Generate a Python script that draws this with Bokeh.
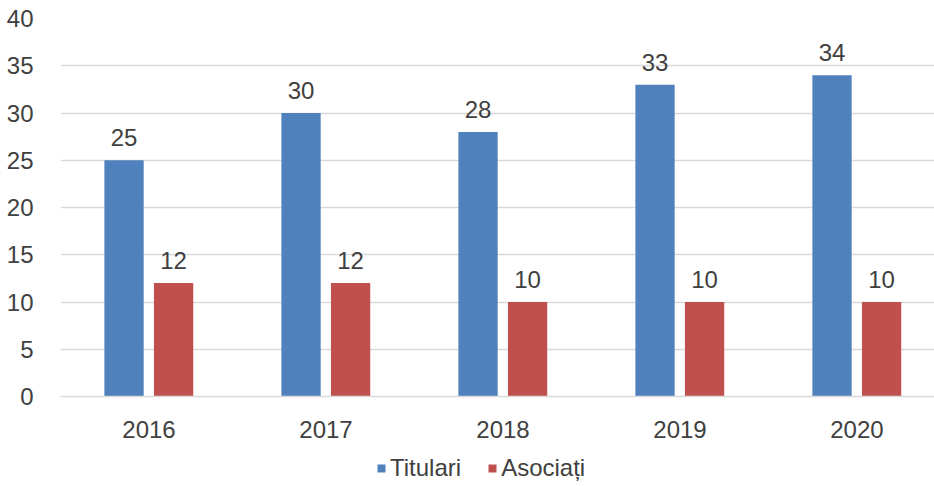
from bokeh.plotting import figure
from bokeh.layouts import column
from bokeh.models import ColumnDataSource, Range1d, FixedTicker, Legend, LegendItem
from bokeh.core.properties import value
from bokeh.embed import file_html
from bokeh.resources import INLINE

years = ["2016", "2017", "2018", "2019", "2020"]
titulari = [25, 30, 28, 33, 34]
asociati = [12, 12, 10, 10, 10]
y_ticks = [0, 5, 10, 15, 20, 25, 30, 35, 40]
series_names = ["Titulari", "Asociați"]

FONT = "Liberation Sans"
TXT = "#404040"
BLUE = "#4F81BD"
RED = "#C0504D"
GRID = "#d9d9d9"

x = list(range(len(years)))
src = ColumnDataSource(dict(
    x=x,
    xb=[i - 0.141 for i in x],
    xr=[i + 0.139 for i in x],
    tit=titulari,
    aso=asociati,
    tit_lbl=[str(v) for v in titulari],
    aso_lbl=[str(v) for v in asociati],
))

p = figure(frame_width=874, frame_height=378, output_backend="svg", toolbar_location=None,
           x_range=Range1d(-0.5, 4.438), y_range=Range1d(0, 40),
           min_border_left=60, min_border_right=0, min_border_top=18,
           min_border_bottom=46)
p.outline_line_color = None
p.background_fill_color = "white"
p.border_fill_color = "white"

p.vbar(x="xb", top="tit", width=0.222, source=src, fill_color=BLUE, line_color=None)
p.vbar(x="xr", top="aso", width=0.222, source=src, fill_color=RED, line_color=None)

p.text(x="xb", y="tit", text="tit_lbl", source=src, text_align="center",
       text_baseline="bottom", y_offset=-14, text_font=value(FONT),
       text_font_size="24px", text_color=TXT)
p.text(x="xr", y="aso", text="aso_lbl", source=src, text_align="center",
       text_baseline="bottom", y_offset=-14, text_font=value(FONT),
       text_font_size="24px", text_color=TXT)

p.xgrid.visible = False
p.ygrid.ticker = FixedTicker(ticks=y_ticks)
p.ygrid.grid_line_color = GRID
p.ygrid.grid_line_width = 1.5

p.yaxis.ticker = FixedTicker(ticks=y_ticks)
p.yaxis.axis_line_color = None
p.yaxis.major_tick_line_color = None
p.yaxis.minor_tick_line_color = None
p.yaxis.major_label_standoff = 21
p.yaxis.major_label_text_font = FONT
p.yaxis.major_label_text_font_size = "24px"
p.yaxis.major_label_text_color = TXT

p.xaxis.ticker = FixedTicker(ticks=x)
p.xaxis.major_label_overrides = {i: y for i, y in enumerate(years)}
p.xaxis.axis_line_color = GRID
p.xaxis.axis_line_width = 1.5
p.xaxis.major_tick_line_color = None
p.xaxis.minor_tick_line_color = None
p.xaxis.major_label_standoff = 18
p.xaxis.major_label_text_font = FONT
p.xaxis.major_label_text_font_size = "24px"
p.xaxis.major_label_text_color = TXT

# legend strip below the chart (bars kept out of view; only the legend shows)
lg = figure(width=934, height=44, output_backend="svg", toolbar_location=None,
            x_range=Range1d(-0.5, 4.438), y_range=Range1d(1000, 1001),
            min_border=0, min_border_left=0, min_border_right=0,
            min_border_top=0, min_border_bottom=0)
lg.axis.visible = False
lg.grid.visible = False
lg.outline_line_color = None
lg.border_fill_color = "white"
db = lg.vbar(x="xb", top="tit", width=0.222, source=src, fill_color=BLUE, line_color=None)
dr = lg.vbar(x="xr", top="aso", width=0.222, source=src, fill_color=RED, line_color=None)
legend = Legend(items=[LegendItem(label=series_names[0], renderers=[db]),
                       LegendItem(label=series_names[1], renderers=[dr])],
                orientation="horizontal", location=(316, 4),
                glyph_width=10, glyph_height=10, label_standoff=4, spacing=26,
                label_text_font=FONT, label_text_font_size="24px",
                label_text_color=TXT, border_line_color=None,
                background_fill_alpha=0, padding=2, margin=0)
lg.add_layout(legend, "center")

layout = column(p, lg, spacing=0)
open("out.html", "w").write(file_html(layout, INLINE))
